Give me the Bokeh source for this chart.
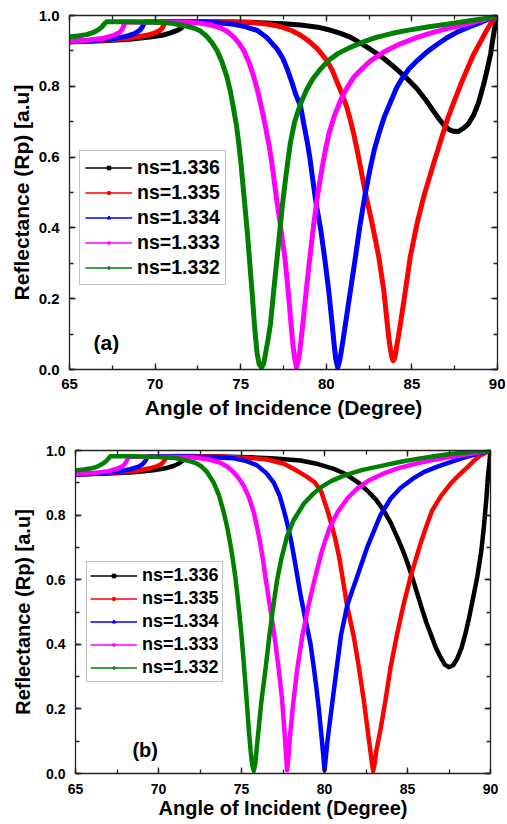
from bokeh.plotting import figure
from bokeh.models import (LinearAxis, SingleIntervalTicker, PrintfTickFormatter, Range1d,
                          Legend, LegendItem, Label)
from bokeh.embed import file_html
from bokeh.resources import INLINE

# ---------------- shared ----------------
labels = ["ns=1.336", "ns=1.335", "ns=1.334", "ns=1.333", "ns=1.332"]
colors = ["#000000", "#FF0000", "#0000FF", "#FF00FF", "#008000"]
markers = ["square", "circle", "triangle", "inverted_triangle", "diamond"]

# ---------------- data : panel (a) ----------------
a_black_x = [65, 67, 68.5, 69.7, 70.5, 70.9, 71.3, 71.55, 71.65, 71.75, 73, 75.5, 77.5, 78.5, 79.5, 80.2, 80.8,
             81.4, 81.9, 82.4, 82.9, 83.4, 83.85, 84.3, 84.8, 85.3, 85.8, 86.3, 86.6, 86.9, 87.2, 87.45, 87.7,
             88.0, 88.3, 88.6, 88.9, 89.2, 89.4, 89.6, 89.75, 89.88, 90]
a_black_y = [0.926, 0.929, 0.933, 0.939, 0.945, 0.951, 0.958, 0.965, 0.975, 0.981, 0.982, 0.981, 0.977, 0.973,
             0.967, 0.959, 0.950, 0.939, 0.925, 0.910, 0.894, 0.877, 0.859, 0.840, 0.818, 0.793, 0.762, 0.727,
             0.707, 0.689, 0.677, 0.673, 0.672, 0.681, 0.694, 0.718, 0.755, 0.807, 0.848, 0.892, 0.940, 0.977,
             1.0]

a_red_x = [65, 67, 68.5, 69.5, 70.0, 70.3, 70.45, 70.55, 70.65, 72, 74, 75.6, 76.5, 77.0, 77.5, 78.0, 78.5,
           79.0, 79.5, 80.05, 80.35, 80.63, 80.9, 81.2, 81.4, 81.6, 81.8, 82.0, 82.3, 82.68, 83.07, 83.36, 83.56,
           83.65, 83.72, 83.82, 83.9, 83.98, 84.05, 84.12, 84.2, 84.33, 84.62, 84.9, 85.1, 85.3, 85.7, 86.2,
           86.77, 87.1, 87.45, 87.85, 88.23, 88.6, 89.0, 89.35, 89.68, 90]
a_red_y = [0.926, 0.930, 0.936, 0.944, 0.951, 0.958, 0.967, 0.978, 0.982, 0.983, 0.982, 0.980, 0.976, 0.972,
           0.966, 0.957, 0.944, 0.927, 0.905, 0.872, 0.845, 0.812, 0.780, 0.741, 0.705, 0.666, 0.620, 0.571,
           0.495, 0.412, 0.317, 0.223, 0.129, 0.090, 0.065, 0.037, 0.025, 0.030, 0.045, 0.068, 0.090, 0.129,
           0.223, 0.317, 0.365, 0.412, 0.490, 0.571, 0.660, 0.710, 0.755, 0.805, 0.848, 0.890, 0.925, 0.957,
           0.983, 1.0]

a_blue_x = [65, 66.5, 67.5, 68.3, 68.8, 69.1, 69.25, 69.35, 69.45, 71, 73, 74.0, 74.6, 75.3, 75.96, 76.54,
            77.13, 77.45, 77.71, 78.0, 78.2, 78.49, 78.7, 78.88, 79.05, 79.17, 79.4, 79.66, 79.9, 80.14, 80.34,
            80.45, 80.55, 80.67, 80.78, 80.87, 81.0, 81.12, 81.41, 81.7, 81.96, 82.25, 82.58, 82.8, 83.07, 83.4,
            83.75, 84.1, 84.43, 84.85, 85.3, 85.9, 86.47, 87.05, 87.64, 88.2, 88.81, 89.4, 90]
a_blue_y = [0.926, 0.929, 0.934, 0.941, 0.949, 0.958, 0.967, 0.978, 0.982, 0.983, 0.981, 0.978, 0.975, 0.968,
            0.958, 0.937, 0.905, 0.880, 0.850, 0.810, 0.779, 0.745, 0.690, 0.645, 0.595, 0.550, 0.470, 0.400,
            0.317, 0.223, 0.129, 0.075, 0.030, 0.005, 0.025, 0.050, 0.090, 0.129, 0.223, 0.317, 0.405, 0.490,
            0.571, 0.620, 0.666, 0.715, 0.755, 0.795, 0.823, 0.850, 0.872, 0.898, 0.918, 0.937, 0.953, 0.965,
            0.976, 0.988, 1.0]

a_magenta_x = [65, 66, 67, 67.6, 67.95, 68.1, 68.2, 68.3, 70, 72, 72.65, 73.3, 73.82, 74.25, 74.6, 74.9,
               75.18, 75.5, 75.77, 76.0, 76.25, 76.45, 76.64, 76.8, 76.93, 77.1, 77.3, 77.45, 77.58, 77.77,
               77.94, 78.05, 78.14, 78.26, 78.36, 78.45, 78.63, 78.83, 79.04, 79.27, 79.5, 79.76, 79.95, 80.15,
               80.5, 80.83, 81.2, 81.61, 82.1, 82.58, 83.4, 84.33, 85.3, 86.28, 87.25, 88.23, 89.1, 90]
a_magenta_y = [0.927, 0.930, 0.936, 0.944, 0.953, 0.963, 0.975, 0.981, 0.982, 0.981, 0.978, 0.973, 0.965,
               0.954, 0.939, 0.922, 0.901, 0.866, 0.826, 0.785, 0.732, 0.685, 0.638, 0.590, 0.543, 0.480,
               0.415, 0.360, 0.317, 0.223, 0.129, 0.070, 0.035, 0.005, 0.025, 0.050, 0.129, 0.223, 0.317,
               0.412, 0.495, 0.571, 0.620, 0.666, 0.720, 0.760, 0.795, 0.826, 0.850, 0.872, 0.898, 0.920,
               0.938, 0.953, 0.965, 0.976, 0.987, 1.0]

a_green_x = [65, 65.5, 66, 66.4, 66.7, 66.9, 67.05, 67.15, 68.5, 70, 71, 71.8, 72.3, 72.65, 73.0, 73.3, 73.62,
             73.9, 74.2, 74.4, 74.6, 74.75, 74.89, 75.0, 75.09, 75.25, 75.4, 75.53, 75.67, 75.8, 75.88, 75.96,
             76.08, 76.22, 76.35, 76.45, 76.6, 76.74, 76.93, 77.13, 77.3, 77.45, 77.65, 77.9, 78.15, 78.49,
             78.85, 79.2, 79.65, 80.1, 80.7, 81.4, 82.2, 82.97, 83.8, 84.72, 86.0, 87.25, 88.2, 89.2, 90]
a_green_y = [0.940, 0.942, 0.946, 0.952, 0.960, 0.968, 0.977, 0.982, 0.982, 0.981, 0.978, 0.970, 0.964, 0.956,
             0.942, 0.925, 0.901, 0.870, 0.826, 0.785, 0.732, 0.690, 0.638, 0.590, 0.543, 0.460, 0.380, 0.300,
             0.215, 0.129, 0.085, 0.045, 0.015, 0.005, 0.018, 0.045, 0.085, 0.129, 0.223, 0.317, 0.400, 0.470,
             0.550, 0.640, 0.700, 0.750, 0.790, 0.820, 0.848, 0.872, 0.893, 0.910, 0.926, 0.939, 0.949, 0.958,
             0.968, 0.977, 0.984, 0.991, 1.0]

# ---------------- data : panel (b) ----------------
b_black_x = [65, 67, 68.5, 69.7, 70.5, 70.9, 71.2, 71.4, 71.5, 71.6, 73, 75.5, 77.0, 78.55, 79.6, 80.56, 81.1,
             81.57, 82.1, 82.57, 83.1, 83.57, 84.0, 84.38, 84.7, 84.98, 85.3, 85.6, 85.9, 86.15, 86.39, 86.7,
             86.99, 87.25, 87.49, 87.75, 87.99, 88.25, 88.49, 88.7, 88.9, 89.2, 89.45, 89.6, 89.75, 89.84, 89.93,
             90]
b_black_y = [0.926, 0.929, 0.933, 0.939, 0.946, 0.952, 0.959, 0.966, 0.975, 0.981, 0.982, 0.979, 0.975, 0.969,
             0.958, 0.943, 0.931, 0.917, 0.898, 0.876, 0.848, 0.814, 0.775, 0.732, 0.693, 0.655, 0.605, 0.555,
             0.505, 0.465, 0.433, 0.390, 0.360, 0.337, 0.329, 0.335, 0.355, 0.388, 0.433, 0.480, 0.530, 0.608,
             0.690, 0.763, 0.850, 0.917, 0.960, 1.0]

b_red_x = [65, 67, 68.5, 69.4, 69.9, 70.2, 70.35, 70.45, 70.55, 72, 74, 75.54, 76.55, 77.55, 78.35, 78.9,
           79.4, 79.8, 80.16, 80.4, 80.66, 80.92, 81.06, 81.36, 81.76, 82.07, 82.37, 82.61, 82.75, 82.85, 82.93,
           83.02, 83.12, 83.37, 83.67, 83.98, 84.38, 84.75, 85.18, 85.78, 86.1, 86.48, 87.0, 87.59, 88.1, 88.6,
           89.0, 89.4, 90]
b_red_y = [0.926, 0.930, 0.936, 0.944, 0.951, 0.959, 0.968, 0.978, 0.982, 0.983, 0.981, 0.977, 0.972, 0.959,
           0.937, 0.920, 0.902, 0.873, 0.817, 0.775, 0.724, 0.660, 0.615, 0.520, 0.425, 0.329, 0.226, 0.130,
           0.075, 0.035, 0.008, 0.030, 0.070, 0.135, 0.226, 0.329, 0.433, 0.520, 0.608, 0.711, 0.760, 0.814,
           0.858, 0.897, 0.924, 0.948, 0.968, 0.985, 1.0]

b_blue_x = [65, 66.5, 67.5, 68.3, 68.8, 69.05, 69.2, 69.3, 69.4, 71, 73, 74.54, 75.3, 75.94, 76.5, 76.95,
            77.3, 77.55, 77.75, 77.95, 78.15, 78.35, 78.55, 78.76, 78.96, 79.16, 79.35, 79.5, 79.66, 79.82,
            79.92, 80.0, 80.1, 80.2, 80.46, 80.72, 81.0, 81.37, 81.7, 81.97, 82.57, 83.37, 84.0, 84.58, 85.3,
            85.98, 86.8, 87.59, 88.4, 89.2, 90]
b_blue_y = [0.926, 0.929, 0.934, 0.942, 0.950, 0.958, 0.967, 0.977, 0.982, 0.982, 0.980, 0.976, 0.967, 0.954,
            0.930, 0.900, 0.860, 0.815, 0.775, 0.730, 0.675, 0.615, 0.555, 0.500, 0.450, 0.400, 0.330, 0.270,
            0.200, 0.115, 0.060, 0.010, 0.060, 0.110, 0.215, 0.320, 0.430, 0.520, 0.570, 0.610, 0.700, 0.800,
            0.852, 0.884, 0.912, 0.933, 0.950, 0.964, 0.978, 0.990, 1.0]

b_magenta_x = [65, 66, 67, 67.6, 67.9, 68.05, 68.15, 68.25, 70, 72, 73.0, 73.73, 74.2, 74.54, 74.85, 75.14,
               75.45, 75.74, 75.95, 76.14, 76.3, 76.45, 76.6, 76.75, 76.9, 77.05, 77.25, 77.45, 77.59, 77.68,
               77.75, 77.83, 77.91, 78.11, 78.35, 78.66, 79.06, 79.4, 79.85, 80.3, 80.8, 81.4, 81.97, 82.7,
               83.57, 84.5, 85.58, 86.6, 87.59, 88.8, 90]
b_magenta_y = [0.927, 0.930, 0.936, 0.945, 0.954, 0.964, 0.975, 0.981, 0.981, 0.979, 0.973, 0.962, 0.948,
               0.932, 0.913, 0.890, 0.855, 0.809, 0.760, 0.710, 0.660, 0.605, 0.555, 0.505, 0.455, 0.400,
               0.320, 0.225, 0.130, 0.060, 0.010, 0.050, 0.110, 0.215, 0.320, 0.425, 0.525, 0.600, 0.690,
               0.760, 0.810, 0.853, 0.882, 0.908, 0.929, 0.946, 0.960, 0.971, 0.980, 0.990, 1.0]

b_green_x = [65, 65.5, 66, 66.31, 66.6, 66.85, 67.0, 67.1, 68.5, 70, 71, 71.8, 72.2, 72.53, 72.9, 73.33,
             73.65, 73.93, 74.15, 74.34, 74.5, 74.64, 74.75, 74.84, 74.98, 75.14, 75.3, 75.44, 75.55, 75.65,
             75.74, 75.83, 75.94, 76.18, 76.45, 76.69, 76.95, 77.15, 77.4, 77.75, 78.15, 78.75, 79.3, 79.75,
             80.4, 81.2, 82.3, 83.57, 84.6, 85.58, 86.6, 87.59, 88.8, 90]
b_green_y = [0.938, 0.941, 0.945, 0.950, 0.958, 0.967, 0.976, 0.982, 0.982, 0.980, 0.977, 0.968, 0.962, 0.953,
             0.935, 0.900, 0.860, 0.809, 0.760, 0.706, 0.655, 0.603, 0.555, 0.510, 0.440, 0.340, 0.235, 0.135,
             0.070, 0.025, 0.008, 0.030, 0.090, 0.215, 0.325, 0.430, 0.530, 0.600, 0.665, 0.735, 0.785, 0.835,
             0.865, 0.885, 0.905, 0.923, 0.940, 0.954, 0.965, 0.974, 0.982, 0.989, 0.995, 1.0]

x_ticks_interval = 5
y_ticks_interval = 0.2

FONT = "Liberation Sans"
NAN = float("nan")


def make_panel(series, tag, tag_xy, xlabel, width, height, borders, lw, tick_fs, title_fs,
               legend_fs, legend_loc, legend_pad, legend_spacing, label_standoffs):
    left, right, top, bottom = borders
    p = figure(width=width, height=height, output_backend="svg", toolbar_location=None,
               x_range=Range1d(65, 90), y_range=Range1d(0, 1.0),
               x_axis_location=None, y_axis_location=None,
               min_border_left=left, min_border_right=right, min_border_top=top,
               min_border_bottom=bottom)
    p.grid.visible = False
    p.outline_line_color = None
    p.background_fill_color = "white"
    p.border_fill_color = "white"

    def axis(side):
        if side in ("below", "above"):
            ax = LinearAxis(ticker=SingleIntervalTicker(interval=x_ticks_interval, num_minor_ticks=2))
        else:
            ax = LinearAxis(ticker=SingleIntervalTicker(interval=y_ticks_interval, num_minor_ticks=2),
                            formatter=PrintfTickFormatter(format="%.1f"))
        ax.axis_line_color = "#222222"
        ax.axis_line_width = 1.3
        ax.major_tick_line_color = "#222222"
        ax.minor_tick_line_color = "#222222"
        ax.major_tick_line_width = 1.3
        ax.minor_tick_line_width = 1.3
        ax.major_tick_in = 6
        ax.major_tick_out = 0
        ax.minor_tick_in = 4
        ax.minor_tick_out = 0
        ax.major_label_text_font = FONT
        ax.major_label_text_font_style = "bold"
        ax.axis_label_text_font = FONT
        ax.axis_label_text_font_style = "bold"
        ax.axis_label_text_color = "black"
        if side in ("above", "right"):
            ax.major_label_text_font_size = "0px"
            ax.major_label_text_color = None
            ax.major_label_standoff = 0
        else:
            ax.major_label_text_color = "black"
            ax.major_label_text_font_size = tick_fs
            ax.axis_label_text_font_size = title_fs
        p.add_layout(ax, side)
        return ax

    xb = axis("below")
    xb.axis_label = xlabel
    xb.major_label_standoff = label_standoffs[0]
    xb.axis_label_standoff = label_standoffs[1]
    yl = axis("left")
    yl.axis_label = "Reflectance (Rp) [a.u]"
    yl.major_label_standoff = label_standoffs[2]
    yl.axis_label_standoff = label_standoffs[3]
    axis("above")
    axis("right")

    for (xs, ys), col in zip(series, colors):
        p.line(xs, ys, line_color=col, line_width=lw, line_join="round", line_cap="round")

    items = []
    for lab, col, mk in zip(labels, colors, markers):
        lr = p.line([NAN], [NAN], line_color=col, line_width=1.5)
        sr = p.scatter([NAN], [NAN], marker=mk, size=4, fill_color=col, line_color=col)
        items.append(LegendItem(label=lab, renderers=[lr, sr]))

    leg = Legend(items=items, location=legend_loc, orientation="vertical",
                 glyph_width=47, glyph_height=9, label_standoff=5,
                 label_text_font=FONT, label_text_font_style="bold", label_text_font_size=legend_fs,
                 label_text_color="black", padding=legend_pad, spacing=legend_spacing, margin=0,
                 border_line_color="#888888", border_line_width=1, background_fill_color="white",
                 background_fill_alpha=1.0)
    p.add_layout(leg, "center")

    p.add_layout(Label(x=tag_xy[0], y=tag_xy[1], text=tag, text_font=FONT, text_font_style="bold",
                       text_font_size=title_fs, text_color="black", text_baseline="alphabetic"))
    return p


series_a = [(a_black_x, a_black_y), (a_red_x, a_red_y), (a_blue_x, a_blue_y),
            (a_magenta_x, a_magenta_y), (a_green_x, a_green_y)]
series_b = [(b_black_x, b_black_y), (b_red_x, b_red_y), (b_blue_x, b_blue_y),
            (b_magenta_x, b_magenta_y), (b_green_x, b_green_y)]

p1 = make_panel(series_a, "(a)", (66.4, 0.075), "Angle of Incidence (Degree)", 505, 423,
                (69, 8, 15, 54), 5, "15px", "21px", "19.5px", (10, 84), 5, 2, (9, 4, 10, 3))
p2 = make_panel(series_b, "(b)", (68.43, 0.074), "Angle of Incident (Degree)", 505, 398,
                (75, 15, 27, 48), 4.5, "14px", "20px", "18px", (11, 91), 3, 2, (10, 0, 10, 9))

open("out.html", "w").write(file_html([p1, p2], INLINE))
